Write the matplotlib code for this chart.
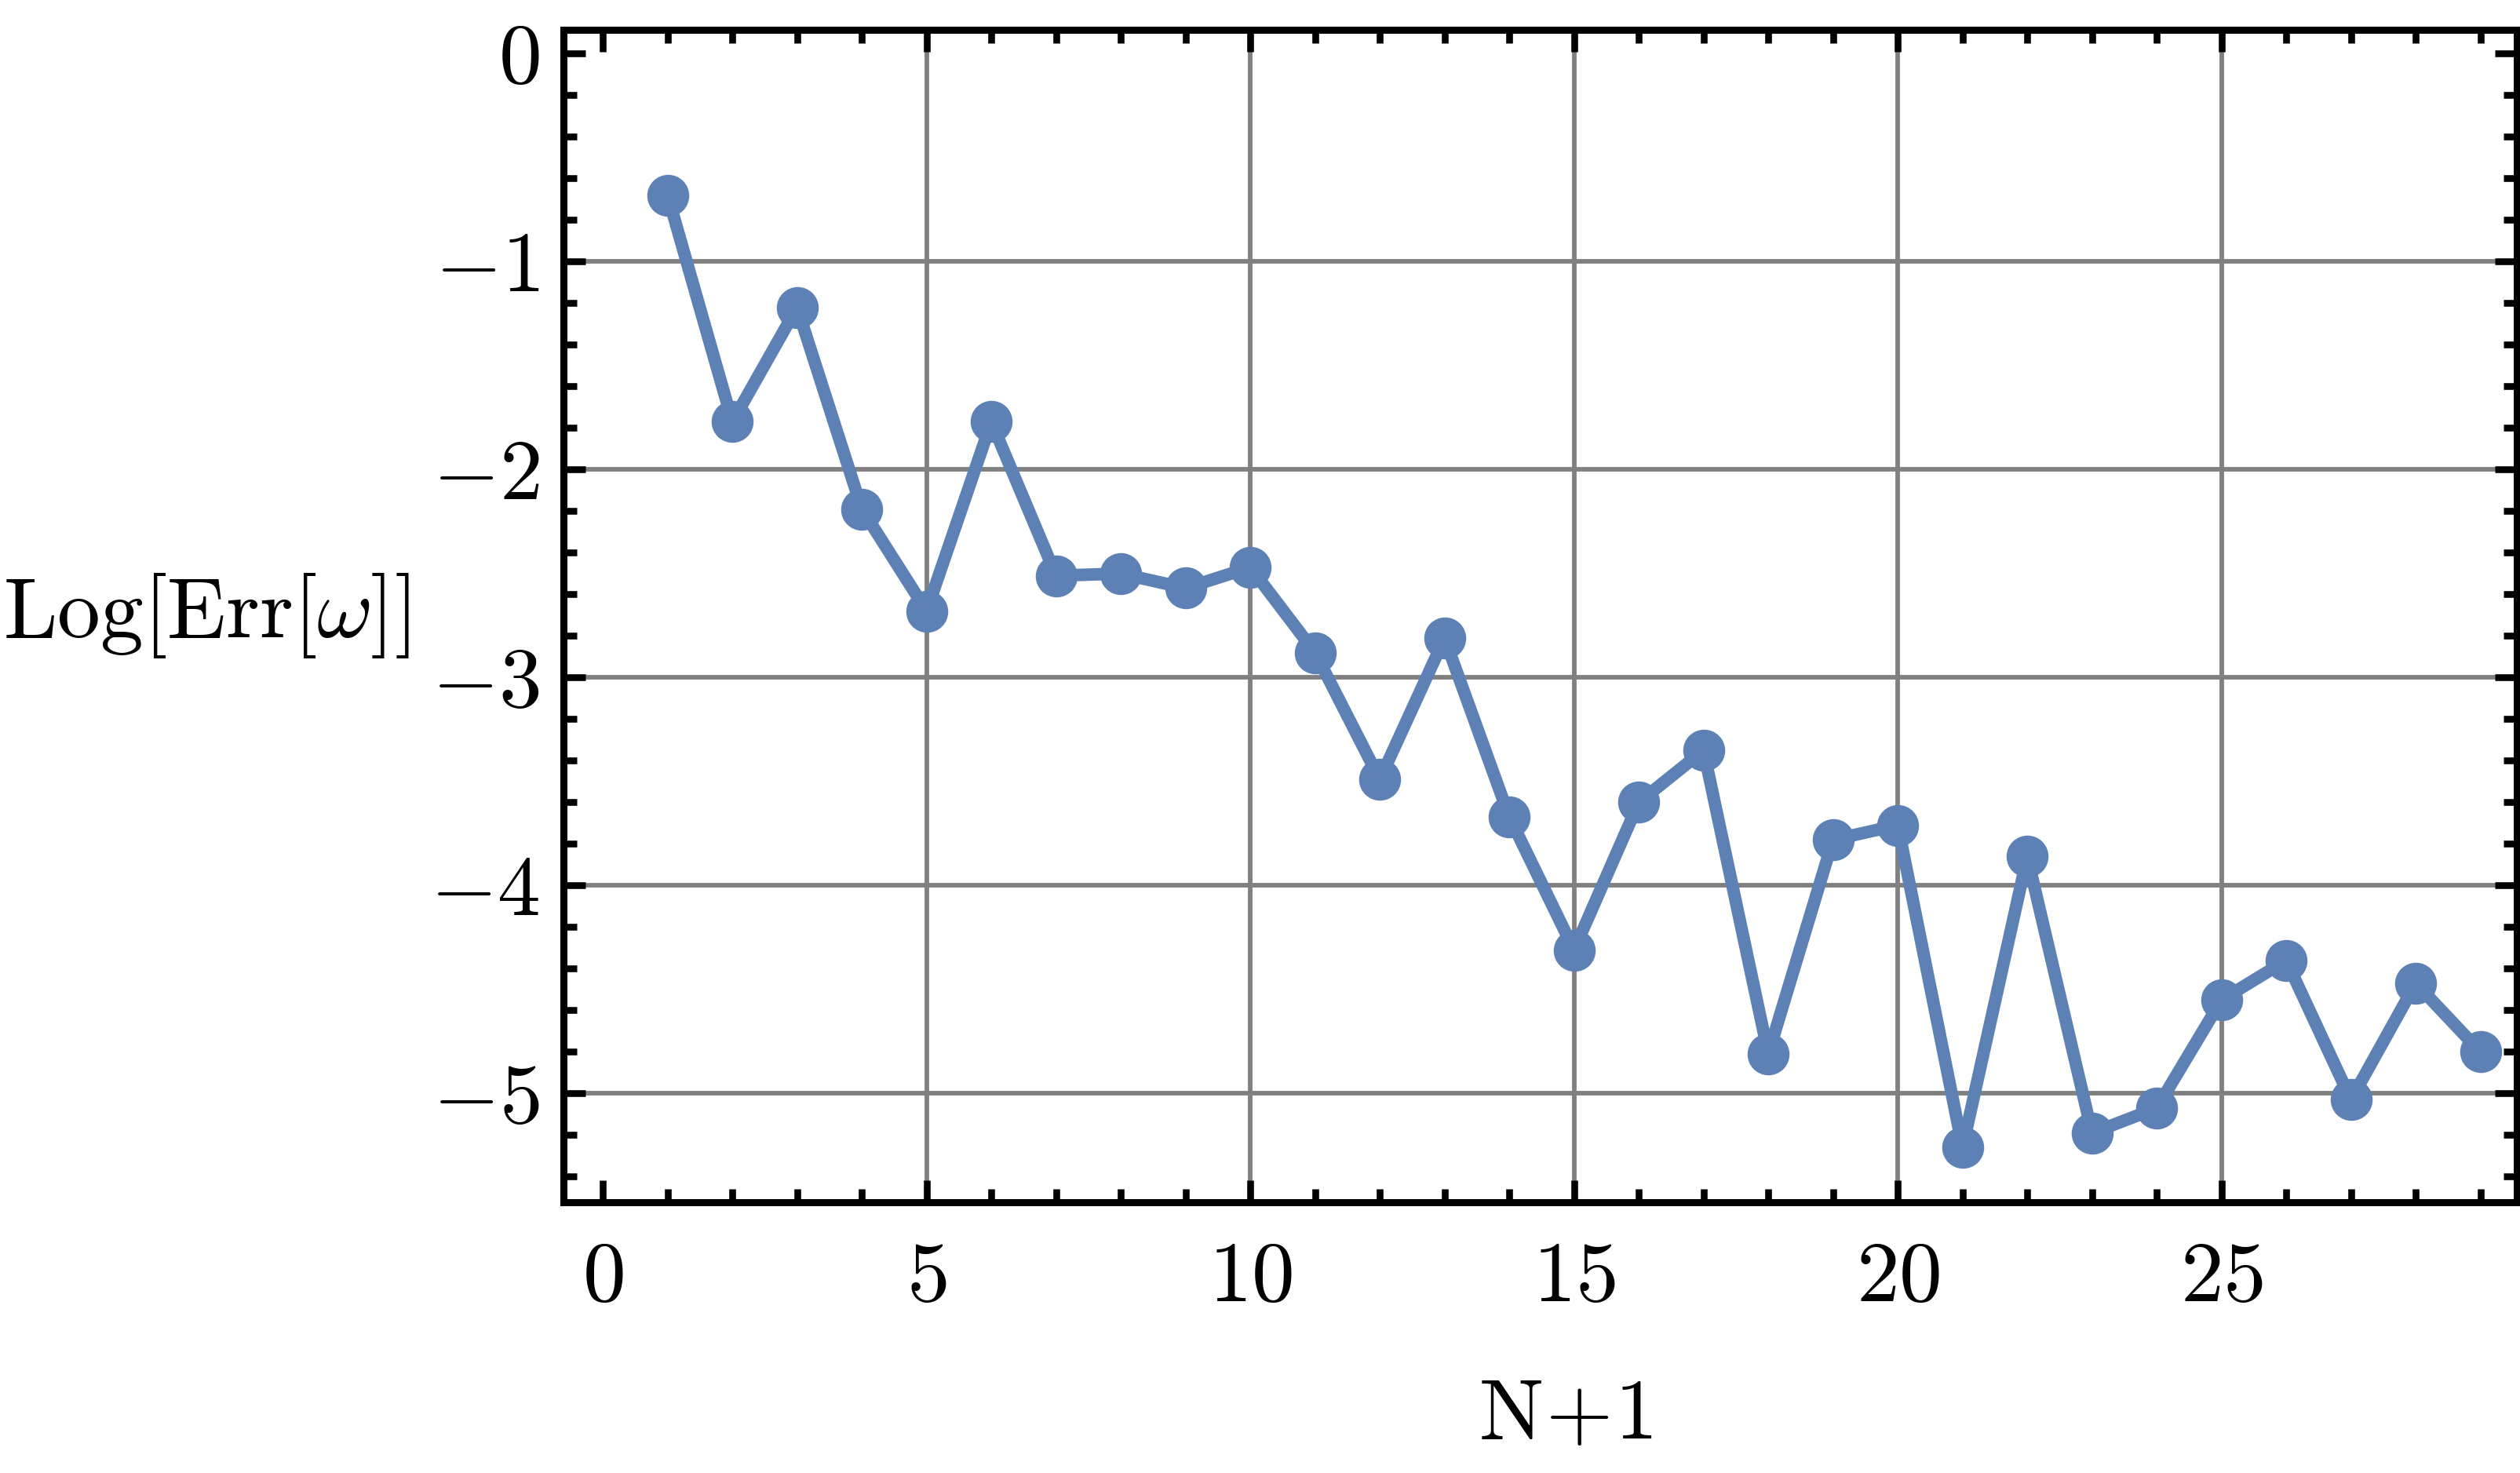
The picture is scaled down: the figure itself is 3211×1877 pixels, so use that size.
import numpy as np
import matplotlib
matplotlib.use("Agg")
import matplotlib.pyplot as plt
from matplotlib.ticker import MultipleLocator

plt.rcParams["mathtext.fontset"] = "cm"
plt.rcParams["font.family"] = "serif"
plt.rcParams["font.serif"] = ["cmr10", "DejaVu Serif"]

# data
n_plus_1 = [1, 2, 3, 4, 5, 6, 7, 8, 9, 10, 11, 12, 13, 14, 15,
            16, 17, 18, 19, 20, 21, 22, 23, 24, 25, 26, 27, 28, 29]
log_err = [-0.68, -1.77, -1.22, -2.19, -2.68, -1.77, -2.51, -2.50, -2.57, -2.47,
           -2.88, -3.49, -2.81, -3.67, -4.31, -3.60, -3.35, -4.81, -3.78, -3.71,
           -5.26, -3.86, -5.19, -5.07, -4.55, -4.36, -5.03, -4.47, -4.80]

x_ticks = [0, 5, 10, 15, 20, 25]
y_ticks = [0, -1, -2, -3, -4, -5]
x_grid = [5, 10, 15, 20, 25]
y_grid = [-1, -2, -3, -4, -5]

line_color = "#5E81B5"
grid_color = "#808080"

fig = plt.figure(figsize=(32.12, 18.77), dpi=100)
ax = fig.add_axes([0.2235, 0.1838, 0.7749, 0.7960])

for gx in x_grid:
    ax.axvline(gx, color=grid_color, lw=4.2, zorder=1)
for gy in y_grid:
    ax.axhline(gy, color=grid_color, lw=4.2, zorder=1)

ax.plot(n_plus_1, log_err, color=line_color, lw=11.5, marker="o",
        markersize=37.5, solid_joinstyle="round", zorder=3, clip_on=False)

ax.set_xlim(-0.61, 29.56)
ax.set_ylim(-5.523, 0.115)

ax.set_xticks(x_ticks, labels=[f"${v}$" for v in x_ticks])
ax.set_yticks(y_ticks, labels=[f"${v}$" for v in y_ticks])
ax.xaxis.set_minor_locator(MultipleLocator(1))
ax.yaxis.set_minor_locator(MultipleLocator(0.2))

ax.tick_params(which="both", direction="in", top=True, right=True,
               width=6.2, color="black", labelsize=79)
ax.tick_params(which="major", length=20)
ax.tick_params(which="minor", length=12)
ax.tick_params(axis="x", which="major", pad=36)
ax.tick_params(axis="y", which="major", pad=22)

for sp in ax.spines.values():
    sp.set_linewidth(6.5)
    sp.set_color("black")

ax.set_xlabel(r"$\mathrm{N}\!+\!1$", fontsize=79)
ax.xaxis.set_label_coords(0.513, -0.2015)
ax.xaxis.label.set_va("baseline")

ax.set_ylabel(r"$\mathrm{Log[Err[}\omega\mathrm{]]}$", fontsize=79,
              rotation=0, ha="left", va="center")
ax.yaxis.set_label_coords(-0.287, 0.5)

plt.savefig("out.png", dpi=100)
